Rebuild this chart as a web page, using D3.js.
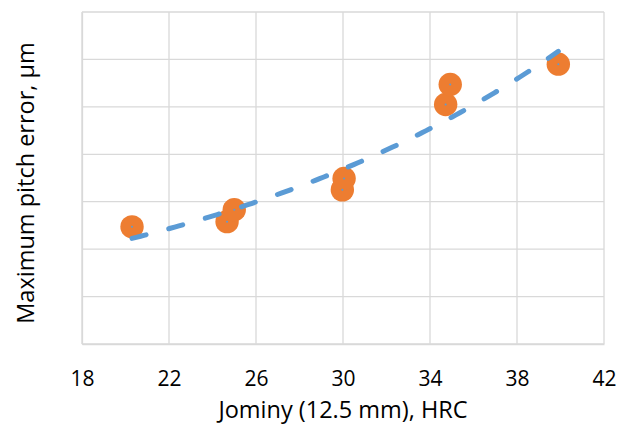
<!DOCTYPE html>
<html><head><meta charset="utf-8">
<script src="https://cdn.jsdelivr.net/npm/d3@7"></script>
<style>body{margin:0;background:#fff}svg{display:block}</style>
</head><body>
<svg id="c" width="631" height="427"></svg>
<script>
const jominy = [20.3, 24.67, 25.0, 29.97, 30.05, 34.72, 34.93, 39.9];
const pitchError = [2.47, 2.58, 2.83, 3.25, 3.49, 5.05, 5.47, 5.90];
const xTicks = [18, 22, 26, 30, 34, 38, 42];
const yTicks = [0, 1, 2, 3, 4, 5, 6, 7];

const svg = d3.select("#c");
const m = {left: 82, right: 604, top: 12, bottom: 344};
const x = d3.scaleLinear().domain([18, 42]).range([m.left, m.right]);
const y = d3.scaleLinear().domain([0, 7]).range([m.bottom, m.top]);
const grid = "#d9d9d9";

// gridlines
svg.append("g").selectAll("line").data(yTicks).join("line")
  .attr("x1", m.left).attr("x2", m.right)
  .attr("y1", d => y(d)).attr("y2", d => y(d))
  .attr("stroke", grid).attr("stroke-width", 1.3);
svg.append("g").selectAll("line").data(xTicks).join("line")
  .attr("y1", m.top).attr("y2", m.bottom)
  .attr("x1", d => x(d)).attr("x2", d => x(d))
  .attr("stroke", grid).attr("stroke-width", 1.3);

// x axis
const xa = svg.append("g").attr("transform", `translate(0,${m.bottom})`)
  .call(d3.axisBottom(x).tickValues(xTicks).tickSize(0).tickPadding(27));
xa.select(".domain").attr("stroke", grid).attr("stroke-width", 1.3);
xa.selectAll("text").attr("font-family", "Open Sans").attr("font-size", 21).attr("fill", "#000");
// y axis (no labels)
const ya = svg.append("g").attr("transform", `translate(${m.left},0)`)
  .call(d3.axisLeft(y).tickValues(yTicks).tickSize(0).tickFormat(""));
ya.select(".domain").attr("stroke", grid).attr("stroke-width", 1.3);

// points
const pts = jominy.map((v, i) => [v, pitchError[i]]);
svg.append("g").selectAll("circle").data(pts).join("circle")
  .attr("cx", d => x(d[0])).attr("cy", d => y(d[1])).attr("r", 11.7)
  .attr("fill", "#ED7D31");

// exponential trendline (least squares on ln y)
const lx = jominy, ly = pitchError.map(Math.log);
const mx = d3.mean(lx), my = d3.mean(ly);
const b = d3.sum(lx.map((v, i) => (v - mx) * (ly[i] - my))) / d3.sum(lx.map(v => (v - mx) ** 2));
const a = Math.exp(my - b * mx);
const xs = d3.range(0, 101).map(i => d3.min(jominy) + i * (d3.max(jominy) - d3.min(jominy)) / 100);
svg.append("path").datum(xs)
  .attr("d", d3.line().x(d => x(d)).y(d => y(a * Math.exp(b * d))))
  .attr("fill", "none").attr("stroke", "#5B9BD5").attr("stroke-width", 5)
  .attr("stroke-linecap", "round").attr("stroke-dasharray", "14.5,23.5");

// tiny centre dots
svg.append("g").selectAll("circle").data(pts).join("circle")
  .attr("cx", d => x(d[0])).attr("cy", d => y(d[1])).attr("r", 1)
  .attr("fill", "#5B9BD5");

// titles
svg.append("text").attr("x", (m.left + m.right) / 2).attr("y", 418)
  .attr("text-anchor", "middle").attr("font-family", "Open Sans").attr("font-size", 23.5)
  .text("Jominy (12.5 mm), HRC");
svg.append("text").attr("transform", `translate(34,183) rotate(-90)`)
  .attr("text-anchor", "middle").attr("font-family", "Open Sans").attr("font-size", 23.5)
  .text("Maximum pitch error, µm");
</script>
</body></html>
